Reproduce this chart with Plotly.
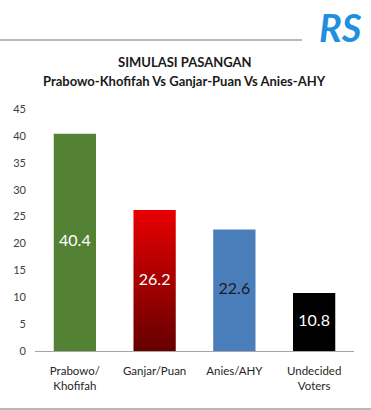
import plotly.graph_objects as go

categories = ["Prabowo/<br>Khofifah", "Ganjar/Puan", "Anies/AHY", "Undecided<br>Voters"]
values = [40.4, 26.2, 22.6, 10.8]
colors = ["#548235", "rgba(0,0,0,0)", "#4a7ebb", "#000000"]
text_colors = ["#ffffff", "#ffffff", "#1a1a2e", "#ffffff"]
y_ticks = [0, 5, 10, 15, 20, 25, 30, 35, 40, 45]

xs = list(range(len(categories)))
bw = 0.53

fig = go.Figure()
fig.add_trace(go.Bar(x=xs, y=values, width=bw, marker=dict(color=colors, line=dict(width=0)),
                     hoverinfo="skip", showlegend=False))

# gradient bar for Ganjar/Puan
gi = 1
gv = values[gi]
fig.add_trace(go.Scatter(
    x=[xs[gi] - bw / 2, xs[gi] + bw / 2, xs[gi] + bw / 2, xs[gi] - bw / 2, xs[gi] - bw / 2],
    y=[0, 0, gv, gv, 0], mode="lines", line=dict(width=0), fill="toself",
    fillgradient=dict(type="vertical", start=0, stop=gv,
                      colorscale=[[0, "#650000"], [1, "#e80000"]]),
    hoverinfo="skip", showlegend=False))

# value labels
fig.add_trace(go.Scatter(x=xs, y=[v / 2 for v in values], mode="text",
                         text=[f"{v:.1f}" for v in values],
                         textfont=dict(family="Lato", size=16, color=text_colors),
                         hoverinfo="skip", showlegend=False))

fig.update_layout(
    width=371, height=410,
    margin=dict(l=35, r=17, t=109, b=59),
    plot_bgcolor="white", paper_bgcolor="white",
    font=dict(family="Lato", color="#333333"),
    xaxis=dict(range=[-0.5, 3.5], tickvals=xs, ticktext=categories, showgrid=False,
               zeroline=False, showline=True, linecolor="#a6a6a6", linewidth=1,
               ticks="", tickfont=dict(size=11.5, color="#262626"), fixedrange=True,
               ticklabelstandoff=9),
    yaxis=dict(range=[0, 45], tickvals=y_ticks, showgrid=False, zeroline=False,
               showline=False, ticks="", tickfont=dict(size=11, color="#404040"),
               ticklabelstandoff=8),
    annotations=[
        dict(text="<b>SIMULASI PASANGAN</b>", xref="paper", yref="paper", x=0.47, y=1.0,
             yshift=47, showarrow=False, font=dict(family="Lato", size=13, color="#1a1a1a"),
             xanchor="center", yanchor="middle"),
        dict(text="<b>Prabowo-Khofifah Vs Ganjar-Puan Vs Anies-AHY</b>", xref="paper",
             yref="paper", x=0.47, y=1.0, yshift=28, showarrow=False,
             font=dict(family="Lato", size=13, color="#1a1a1a"), xanchor="center",
             yanchor="middle"),
        dict(text="<b><i>RS</i></b>", xref="paper", yref="paper", x=1.03, y=1.0, yshift=82,
             showarrow=False, font=dict(family="Lato", size=38, color="#1f8fe0"),
             xanchor="right", yanchor="middle"),
    ],
)
ph = 410 - 109 - 59
ytop = 1 + (109 - 40) / ph
ybot = -(409 - 351) / ph
fig.add_shape(type="line", xref="paper", yref="paper", x0=-35 / 319, x1=(302 - 35) / 319,
              y0=ytop, y1=ytop, line=dict(color="#a0a0a0", width=1.5))
fig.add_shape(type="line", xref="paper", yref="paper", x0=-35 / 319, x1=(371 - 35) / 319,
              y0=ybot, y1=ybot, line=dict(color="#a0a0a0", width=1.5))

fig.write_html("out.html")
